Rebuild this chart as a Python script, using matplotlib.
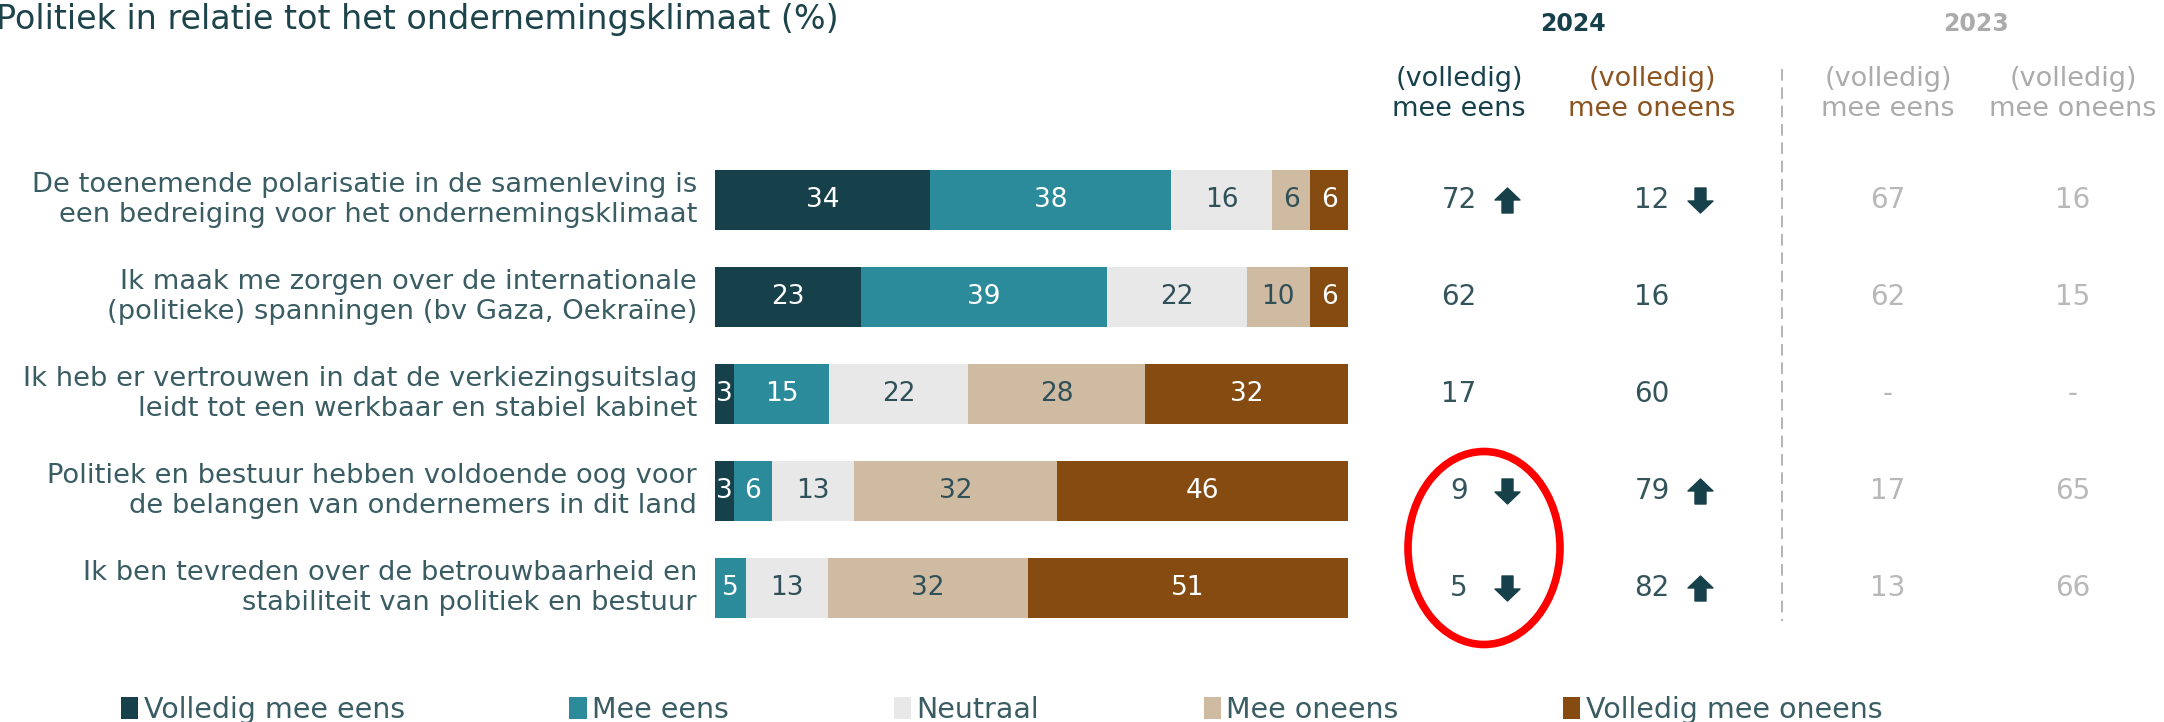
import matplotlib
matplotlib.use("Agg")
import matplotlib.pyplot as plt
import matplotlib.transforms as mtransforms
from matplotlib.path import Path
from matplotlib.patches import Ellipse, Patch

# ---------------- data ----------------
title = "Politiek in relatie tot het ondernemingsklimaat (%)"
statements = [
    "De toenemende polarisatie in de samenleving is\neen bedreiging voor het ondernemingsklimaat",
    "Ik maak me zorgen over de internationale\n(politieke) spanningen (bv Gaza, Oekraïne)",
    "Ik heb er vertrouwen in dat de verkiezingsuitslag\nleidt tot een werkbaar en stabiel kabinet",
    "Politiek en bestuur hebben voldoende oog voor\nde belangen van ondernemers in dit land",
    "Ik ben tevreden over de betrouwbaarheid en\nstabiliteit van politiek en bestuur",
]
categories = ["Volledig mee eens", "Mee eens", "Neutraal", "Mee oneens", "Volledig mee oneens"]
volledig_mee_eens = [34, 23, 3, 3, 0]
mee_eens = [38, 39, 15, 6, 5]
neutraal = [16, 22, 22, 13, 13]
mee_oneens = [6, 10, 28, 32, 32]
volledig_mee_oneens = [6, 6, 32, 46, 51]

eens_2024 = [72, 62, 17, 9, 5]
oneens_2024 = [12, 16, 60, 79, 82]
trend_eens_2024 = ["up", None, None, "down", "down"]
trend_oneens_2024 = ["down", None, None, "up", "up"]
eens_2023 = [67, 62, None, 17, 13]
oneens_2023 = [16, 15, None, 65, 66]

year_labels = ["2024", "2023"]
col_header = ["(volledig)\nmee eens", "(volledig)\nmee oneens"]

# ---------------- style ----------------
plt.rcParams["font.family"] = ["DejaVu Sans"]
colors = ["#17414A", "#2B8B9B", "#E8E8E8", "#CFBBA2", "#854B10"]
text_on = ["white", "white", "#2F5058", "#2F5058", "white"]
dark = "#17414A"
label_col = "#3A5C63"
num_col = "#34545B"
grey = "#ABABAB"
brown_head = "#8B5420"

W, H = 2164, 722
fig = plt.figure(figsize=(W / 100, H / 100), dpi=100)
fig.patch.set_facecolor("white")

ax = fig.add_axes([715 / W, 1 - 636.5 / H, (1348 - 715) / W, 485 / H])
ax.set_xlim(0, 100)
ax.set_ylim(len(statements) - 0.5, -0.5)
ax.axis("off")

series = [volledig_mee_eens, mee_eens, neutraal, mee_oneens, volledig_mee_oneens]
n = len(statements)
totals = [sum(s[i] for s in series) for i in range(n)]
lefts = [0.0] * n
for k, s in enumerate(series):
    widths = [s[i] / totals[i] * 100 for i in range(n)]
    ax.barh(range(n), widths, left=lefts, height=0.61, color=colors[k],
            edgecolor="none", label=categories[k])
    for i in range(n):
        if s[i] > 0:
            ax.text(lefts[i] + widths[i] / 2, i, str(s[i]), ha="center", va="center",
                    fontsize=19, color=text_on[k])
    lefts = [lefts[i] + widths[i] for i in range(n)]

# statements on the left
trans = mtransforms.blended_transform_factory(fig.transFigure, ax.transData)
for i, st in enumerate(statements):
    ax.text(697 / W, i, st, transform=trans, ha="right", va="center",
            fontsize=19.7, color=label_col, linespacing=1.17)

# number columns
cx = [1459 / W, 1652 / W, 1888 / W, 2073 / W]
arrow_dx = 48 / W
up_arrow = Path([(-0.22, -0.5), (0.22, -0.5), (0.22, 0.02), (0.5, 0.02), (0.0, 0.5),
                 (-0.5, 0.02), (-0.22, 0.02), (-0.22, -0.5)],
                [Path.MOVETO] + [Path.LINETO] * 6 + [Path.CLOSEPOLY])
down_arrow = Path([(x, -y) for x, y in up_arrow.vertices], up_arrow.codes)


def put_arrow(x, y, d):
    if d is None:
        return
    ax.plot([x + arrow_dx], [y], transform=trans, marker=up_arrow if d == "up" else down_arrow,
            ms=18, color=dark, mec=dark, clip_on=False, linestyle="none")


for i in range(n):
    ax.text(cx[0], i, str(eens_2024[i]), transform=trans, ha="center", va="center",
            fontsize=20, color=num_col)
    put_arrow(cx[0], i, trend_eens_2024[i])
    ax.text(cx[1], i, str(oneens_2024[i]), transform=trans, ha="center", va="center",
            fontsize=20, color=num_col)
    put_arrow(cx[1], i, trend_oneens_2024[i])
    for c, vals in ((cx[2], eens_2023), (cx[3], oneens_2023)):
        v = vals[i]
        ax.text(c, i, "-" if v is None else str(v), transform=trans, ha="center",
                va="center", fontsize=20, color="#B8B8B8")

# headers
fig.text(-0.002, 1 - 19 / H, title, ha="left", va="center", fontsize=24, color="#1D434B")
fig.text(1573 / W, 1 - 24 / H, year_labels[0], ha="center", va="center", fontsize=17,
         color=dark, fontweight="bold")
fig.text(1976 / W, 1 - 24 / H, year_labels[1], ha="center", va="center", fontsize=17,
         color=grey, fontweight="bold")
head_cols = [dark, brown_head, grey, grey]
for j, c in enumerate(cx):
    fig.text(c, 1 - 94 / H, col_header[j % 2], ha="center", va="center", fontsize=19.5,
             color=head_cols[j], linespacing=1.22)

# dashed separator
fig.add_artist(plt.Line2D([1782 / W, 1782 / W], [1 - 69 / H, 1 - 621 / H],
                          transform=fig.transFigure, color="#A8A8A8", lw=1.2,
                          linestyle=(0, (7, 4))))

# red ellipse annotation
fig.add_artist(Ellipse((1484 / W, 1 - 548 / H), 152 / W, 193 / H, transform=fig.transFigure,
                       fill=False, edgecolor="#FF0000", lw=5.5))

# legend
handles = [Patch(facecolor=c, edgecolor="none") for c in colors]
fig.legend(handles, categories, loc="center left", bbox_to_anchor=(121 / W, 1 - 710 / H),
           ncol=5, frameon=False, fontsize=20.5, labelcolor=label_col, handlelength=0.6,
           handleheight=0.8, handletextpad=0.2, columnspacing=5.78, borderaxespad=0,
           borderpad=0)

fig.savefig("out.png", dpi=100, facecolor="white")
